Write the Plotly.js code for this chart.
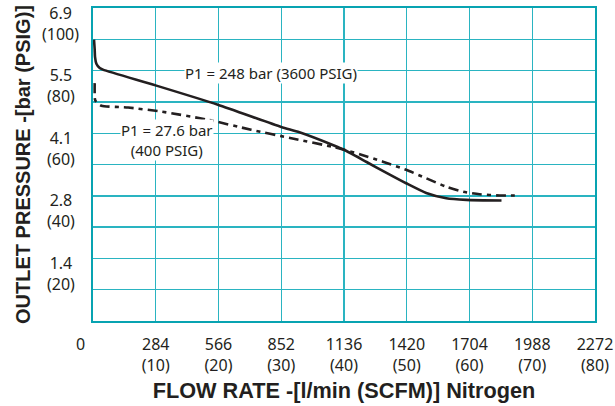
<!DOCTYPE html>
<html><head><meta charset="utf-8">
<script src="https://cdn.plot.ly/plotly-3.0.1.min.js"></script>
<style>html,body{margin:0;padding:0;background:#fff}#chart{width:615px;height:406px}</style>
</head><body><div id="chart"></div>
<script>
// Tick values / labels
const flowTicksScfm = [10, 20, 30, 40, 50, 60, 70, 80];
const flowTicksLpmText = ['284', '566', '852', '1136', '1420', '1704', '1988', '2272'];
const flowTicksScfmText = ['(10)', '(20)', '(30)', '(40)', '(50)', '(60)', '(70)', '(80)'];
const pressTicksPsig = [100, 80, 60, 40, 20];
const pressTicksBarText = ['6.9', '5.5', '4.1', '2.8', '1.4'];
const pressTicksPsigText = ['(100)', '(80)', '(60)', '(40)', '(20)'];

// P1 = 248 bar (3600 PSIG) : flow in SCFM, outlet pressure in PSIG
const hpFlow = [0.16, 0.27, 0.32, 0.54, 1.07, 1.59, 10.1, 19.9, 30.0, 32.9, 38.5, 40.0, 43.6, 46.7, 49.9, 53.1, 56.3, 59.5, 65.1];
const hpPressure = [89.9, 86.7, 84.4, 82.2, 80.8, 80.3, 75.2, 69.1, 62.0, 60.3, 56.0, 54.7, 50.8, 47.4, 44.0, 40.9, 39.2, 38.7, 38.5];

// P1 = 27.6 bar (400 PSIG)
const lpFlow = [0.27, 0.32, 0.54, 1.34, 5.6, 10.9, 18.3, 25.2, 31.6, 38.5, 40.0, 42.5, 46.2, 49.9, 53.1, 56.3, 59.0, 61.6, 64.8, 67.7];
const lpPressure = [76.0, 70.7, 69.9, 68.8, 68.2, 66.9, 64.3, 61.1, 58.4, 55.5, 54.7, 53.3, 50.9, 48.3, 45.6, 42.9, 41.3, 40.5, 40.1, 40.1];

const gridCol = '#2ab4c1';
const borderCol = '#08a3b1';
const lineCol = '#231f20';
const tickFont = {family: 'Noto Sans, Liberation Sans, sans-serif', size: 16, color: '#231f20'};
const titleFont = {family: 'Liberation Sans, Arial, sans-serif', size: 21.7, color: '#231f20'};

const traces = [
  {x: hpFlow, y: hpPressure, mode: 'lines', type: 'scatter', name: 'P1 = 248 bar',
   line: {color: lineCol, width: 2.6, shape: 'spline', smoothing: 0.6}, hoverinfo: 'skip'},
  {x: lpFlow, y: lpPressure, mode: 'lines', type: 'scatter', name: 'P1 = 27.6 bar',
   line: {color: lineCol, width: 2.6, dash: '10px,5px,4px,5px', shape: 'spline', smoothing: 0.6}, hoverinfo: 'skip'}
];

const annotations = [];
pressTicksPsig.forEach((v, i) => {
  annotations.push({xref: 'paper', yref: 'y', x: -0.0644, y: v, yshift: -15, xanchor: 'center', yanchor: 'middle',
    text: pressTicksBarText[i] + '<br>' + pressTicksPsigText[i], showarrow: false, font: tickFont});
});
annotations.push({xref: 'x', yref: 'paper', x: 0, y: 0, xshift: -13, yshift: -23, xanchor: 'center', yanchor: 'middle',
  text: '0', showarrow: false, font: tickFont});
const labelFont = {family: 'Noto Sans, Liberation Sans, sans-serif', size: 15, color: '#231f20'};
annotations.push({xref: 'x', yref: 'y', x: 28.3, y: 79.3, text: 'P1 = 248 bar (3600 PSIG)', showarrow: false,
  xanchor: 'center', yanchor: 'middle', bgcolor: '#ffffff', borderpad: 0, font: labelFont});
annotations.push({xref: 'x', yref: 'y', x: 11.8, y: 57.9, text: 'P1 = 27.6 bar<br>(400 PSIG)', showarrow: false,
  xanchor: 'center', yanchor: 'middle', align: 'center', bgcolor: '#ffffff', borderpad: 0, font: labelFont});

const layout = {
  width: 615, height: 406,
  margin: {l: 93, r: 20, t: 8, b: 85},
  paper_bgcolor: '#ffffff', plot_bgcolor: '#ffffff',
  showlegend: false,
  xaxis: {
    range: [0, 80], tickmode: 'array', tickvals: flowTicksScfm,
    ticktext: flowTicksLpmText.map((t, i) => t + '<br>' + flowTicksScfmText[i]),
    ticks: '', ticklabelstandoff: 8, tickfont: tickFont,
    showgrid: true, gridcolor: gridCol, gridwidth: 1.4, zeroline: false,
    showline: true, linecolor: borderCol, linewidth: 2, mirror: true,
    title: {text: '<b>FLOW RATE -[l/min (SCFM)] Nitrogen</b>', font: titleFont, standoff: 8},
    fixedrange: true
  },
  yaxis: {
    range: [0, 100], tickmode: 'linear', tick0: 0, dtick: 10, showticklabels: false, ticks: '',
    showgrid: true, gridcolor: gridCol, gridwidth: 1.4, zeroline: false,
    showline: true, linecolor: borderCol, linewidth: 2, mirror: true,
    title: {text: '<b>OUTLET PRESSURE -[bar (PSIG)]</b>', font: {family: titleFont.family, size: 20, color: '#231f20'}, standoff: 55},
    fixedrange: true
  },
  annotations: annotations
};

Plotly.newPlot('chart', traces, layout, {displayModeBar: false, staticPlot: true});
</script>
</body></html>
